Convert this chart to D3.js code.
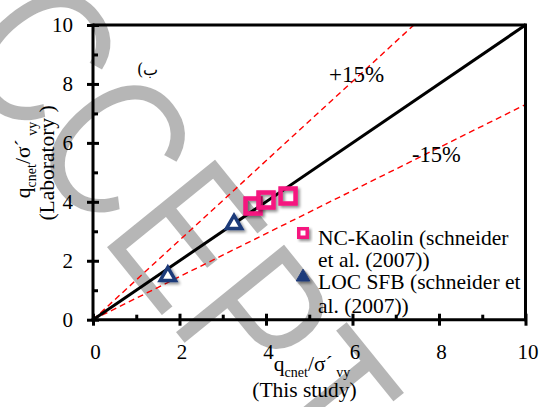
<!DOCTYPE html>
<html><head><meta charset="utf-8">
<script src="https://cdn.jsdelivr.net/npm/d3@7"></script>
<style>
html,body{margin:0;padding:0;background:#fff;}
svg{display:block;}
</style></head><body>
<svg id="chart" width="542" height="407"></svg>
<script>
// Axis ticks
const xTicks = [0, 2, 4, 6, 8, 10];
const yTicks = [0, 2, 4, 6, 8, 10];
const minorTicks = [1, 3, 5, 7, 9];

// NC-Kaolin (schneider et al. 2007)
const kaolinX = [3.70, 4.00, 4.51];
const kaolinY = [3.86, 4.06, 4.20];

// LOC SFB (schneider et al. 2007)
const locX = [1.73, 3.26];
const locY = [1.48, 3.24];

// Reference lines: 1:1 and the two bounds
const unityLine = [[0, 0], [10, 10]];
const upperBound = [[0, 0], [7.42, 10]];
const lowerBound = [[0, 0], [10, 7.3]];
const boundLabels = ["+15%", "-15%"];

const legendLines = [["NC-Kaolin (schneider", "et al. (2007))"], ["LOC SFB (schneider et", "al. (2007))"]];

const SERIF = "'Liberation Serif','Times New Roman',serif";
const PINK = "#f5137f";
const NAVY = "#1f3a7a";

const svg = d3.select("#chart");
const x = d3.scaleLinear().domain([0, 10]).range([93, 525.5]);
const y = d3.scaleLinear().domain([0, 10]).range([319.7, 25]);

// soft drop shadow for markers
const defs = svg.append("defs");
const f = defs.append("filter").attr("id", "soft")
  .attr("x", "-60%").attr("y", "-60%").attr("width", "220%").attr("height", "220%");
f.append("feGaussianBlur").attr("in", "SourceAlpha").attr("stdDeviation", 1.6).attr("result", "b");
f.append("feOffset").attr("in", "b").attr("dx", 2).attr("dy", 2).attr("result", "o");
f.append("feComponentTransfer").attr("in", "o").attr("result", "s")
  .append("feFuncA").attr("type", "linear").attr("slope", 0.45);
f.append("feGaussianBlur").attr("in", "SourceGraphic").attr("stdDeviation", 0.5).attr("result", "g");
const mg = f.append("feMerge");
mg.append("feMergeNode").attr("in", "s");
mg.append("feMergeNode").attr("in", "g");

// background stamp, a condensed grey sans running diagonally
svg.append("text")
  .attr("transform", "translate(-120.6,-32.4) rotate(51) scale(0.8,1)")
  .attr("font-family", "'Liberation Sans',Arial,sans-serif")
  .attr("font-size", 205)
  .attr("fill", "#b6b6b6")
  .attr("stroke", "#fff")
  .attr("stroke-width", 2)
  .text("ACCEPTED MANUSCRIPT");

const line = d3.line().x(d => x(d[0])).y(d => y(d[1]));

// bounds
[upperBound, lowerBound].forEach(b => {
  svg.append("path").attr("d", line(b))
    .attr("fill", "none").attr("stroke", "#ff0000")
    .attr("stroke-width", 1.4).attr("stroke-dasharray", "6,4");
});
// 1:1 line
svg.append("path").attr("d", line(unityLine))
  .attr("fill", "none").attr("stroke", "#000").attr("stroke-width", 3);

// frame top/right
svg.append("line").attr("x1", x(0)).attr("x2", x(10)).attr("y1", y(10)).attr("y2", y(10))
  .attr("stroke", "#000").attr("stroke-width", 3);
svg.append("line").attr("x1", x(10)).attr("x2", x(10)).attr("y1", y(10)).attr("y2", y(0))
  .attr("stroke", "#000").attr("stroke-width", 3).attr("stroke-linecap", "square");

// axes
function styleAxis(g) {
  g.select(".domain").attr("stroke", "#000").attr("stroke-width", 3);
  g.selectAll(".tick line").attr("stroke", "#000").attr("stroke-width", 3);
  g.selectAll(".tick text").attr("font-family", SERIF).attr("font-size", 21).attr("fill", "#000");
}
const xMinor = svg.append("g").attr("transform", `translate(0,${y(0)})`)
  .call(d3.axisBottom(x).tickValues(minorTicks).tickSize(-5).tickSizeOuter(0).tickFormat(""));
styleAxis(xMinor);
xMinor.select(".domain").remove();
const yMinor = svg.append("g").attr("transform", `translate(${x(0)},0)`)
  .call(d3.axisLeft(y).tickValues(minorTicks).tickSize(-5).tickSizeOuter(0).tickFormat(""));
styleAxis(yMinor);
yMinor.select(".domain").remove();

const xAxis = svg.append("g").attr("transform", `translate(0,${y(0)})`)
  .call(d3.axisBottom(x).tickValues(xTicks).tickSize(6).tickSizeOuter(0).tickPadding(18).tickFormat(d3.format("d")));
styleAxis(xAxis);
xAxis.selectAll(".tick line").attr("y1", -6);
xAxis.selectAll(".tick text").attr("x", 2);
xAxis.select(".domain").attr("d", `M${x(0) - 1.5},0H${x(10) + 1.5}`);

const yAxis = svg.append("g").attr("transform", `translate(${x(0)},0)`)
  .call(d3.axisLeft(y).tickValues(yTicks).tickSize(6).tickSizeOuter(0).tickPadding(14).tickFormat(d3.format("d")));
styleAxis(yAxis);
yAxis.selectAll(".tick line").attr("x1", 6);
yAxis.select(".domain").attr("d", `M0,${y(0) + 1.5}V${y(10) - 1.5}`);

// markers
const tri = d3.symbol().type(d3.symbolTriangle);
const sq = d3.symbol().type(d3.symbolSquare);

svg.append("g").selectAll("path").data(locX.map((v, i) => [v, locY[i]])).join("path")
  .attr("d", tri.size(100)())
  .attr("transform", d => `translate(${x(d[0])},${y(d[1])})`)
  .attr("fill", "#fff").attr("stroke", NAVY).attr("stroke-width", 3.5)
  .attr("stroke-linejoin", "miter").attr("filter", "url(#soft)");

svg.append("g").selectAll("path").data(kaolinX.map((v, i) => [v, kaolinY[i]])).join("path")
  .attr("d", sq.size(225)())
  .attr("transform", d => `translate(${x(d[0])},${y(d[1])})`)
  .attr("fill", "none").attr("stroke", PINK).attr("stroke-width", 4.5)
  .attr("filter", "url(#soft)");

// bound labels
svg.append("text").attr("x", 329).attr("y", 82).attr("font-family", SERIF).attr("font-size", 23).text(boundLabels[0]);
svg.append("text").attr("x", 412).attr("y", 162).attr("font-family", SERIF).attr("font-size", 22.5).text(boundLabels[1]);

// panel letter
svg.append("text").attr("x", 137).attr("y", 75).attr("font-family", "'DejaVu Serif','Noto Sans',serif")
  .attr("font-size", 16).text("(ب");

// legend
svg.append("path").attr("d", sq.size(72)()).attr("transform", "translate(303,233)")
  .attr("fill", "#fff").attr("stroke", PINK).attr("stroke-width", 3.5).attr("filter", "url(#soft)");
svg.append("path").attr("d", tri.size(80)()).attr("transform", "translate(303,277)")
  .attr("fill", NAVY).attr("stroke", NAVY).attr("stroke-width", 1).attr("filter", "url(#soft)");
const legY = [[244.7, 267.3], [289, 313.3]];
legendLines.forEach((ls, i) => ls.forEach((t, j) => {
  svg.append("text").attr("x", 318).attr("y", legY[i][j])
    .attr("font-family", SERIF).attr("font-size", 21.5).text(t);
}));

// axis titles
function ratioTitle(sel) {
  sel.append("tspan").text("q");
  sel.append("tspan").attr("font-size", 14).attr("dy", 6).text("cnet");
  sel.append("tspan").attr("dy", -6).text("/σ´");
  sel.append("tspan").attr("font-size", 14).attr("dy", 6.5).text(" vy");
}
const xt = svg.append("text").attr("x", 312).attr("y", 370.5).attr("text-anchor", "middle")
  .attr("font-family", SERIF).attr("font-size", 21.5);
ratioTitle(xt);
svg.append("text").attr("x", 304.5).attr("y", 397).attr("text-anchor", "middle")
  .attr("font-family", SERIF).attr("font-size", 21.5).text("(This study)");

const yt = svg.append("text").attr("transform", "translate(30,160) rotate(-90)").attr("text-anchor", "middle")
  .attr("font-family", SERIF).attr("font-size", 21.5);
ratioTitle(yt);
svg.append("text").attr("transform", "translate(54,163) rotate(-90)").attr("text-anchor", "middle")
  .attr("font-family", SERIF).attr("font-size", 21.5).text("(Laboratory )");
</script>
</body></html>
